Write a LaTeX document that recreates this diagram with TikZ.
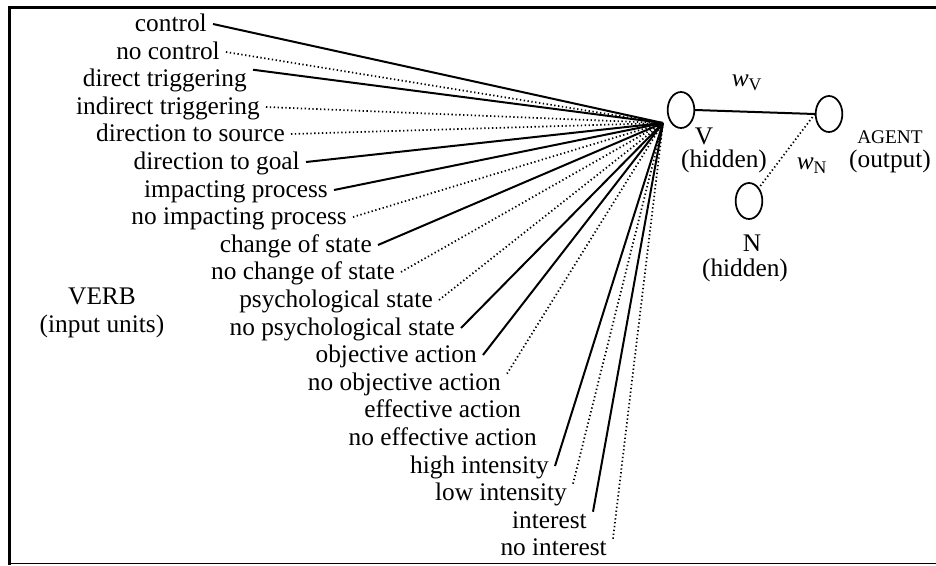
\documentclass[tikz,border=0pt]{standalone}
\usepackage{fontspec}
\setmainfont{Liberation Serif}
\usetikzlibrary{shapes.geometric}
\begin{document}
\begin{tikzpicture}[x=0.75pt,y=-0.75pt,
  lbl/.style={anchor=east,inner xsep=4.5pt,inner ysep=0pt,text height=12pt,text depth=1.5pt,font=\fontsize{19}{20.5}\selectfont},
  txt/.style={inner sep=0pt,font=\fontsize{19}{20.5}\selectfont},
  unit/.style={draw,ellipse,line width=1.3pt,minimum width=20pt,minimum height=27pt,inner sep=0pt},
  on/.style={line width=1.5pt},
  off/.style={line width=1.3pt,dash pattern=on 1pt off 1.9pt}]
\useasboundingbox (0,0) rectangle (936,565);
\draw[line width=2.25pt] (936,7.5) -- (9.5,7.5) -- (9.5,565);
\draw[line width=0.75pt] (8,563.6) -- (936,563.6);
% input units
\node[txt,align=center] (verb) at (102,313) {VERB\\(input units)};
\node[lbl] (ctl) at (213,24) {control};
\node[lbl] (noctl) at (226,52) {no control};
\node[lbl] (dtrig) at (253,79) {direct triggering};
\node[lbl] (itrig) at (266,107) {indirect triggering};
\node[lbl] (dsrc) at (291,134) {direction to source};
\node[lbl] (dgoal) at (306,162) {direction to goal};
\node[lbl] (imp) at (334,190) {impacting process};
\node[lbl] (noimp) at (353,217) {no impacting process};
\node[lbl] (chg) at (378,245) {change of state};
\node[lbl] (nochg) at (401,272) {no change of state};
\node[lbl] (psy) at (439,300) {psychological state};
\node[lbl] (nopsy) at (461,328) {no psychological state};
\node[lbl] (obj) at (483,355) {objective action};
\node[lbl] (noobj) at (507,383) {no objective action};
\node[lbl] (eff) at (527,410) {effective action};
\node[lbl] (noeff) at (543,438) {no effective action};
\node[lbl] (hi) at (555,466) {high intensity};
\node[lbl] (lo) at (573,493) {low intensity};
\node[lbl] (int) at (593,521) {interest};
\node[lbl] (noint) at (613,548) {no interest};
\coordinate (hub) at (663,123);
% connections into V
\draw[on] (ctl.east) -- (hub);
\draw[off] (noctl.east) -- (hub);
\draw[on] (dtrig.north east) -- (hub);
\draw[off] (itrig.east) -- (hub);
\draw[off] (dsrc.east) -- (hub);
\draw[on] (dgoal.east) -- (hub);
\draw[on] (imp.east) -- (hub);
\draw[off] (noimp.east) -- (hub);
\draw[on] (chg.east) -- (hub);
\draw[off] (nochg.east) -- (hub);
\draw[off] (psy.east) -- (hub);
\draw[on] (nopsy.east) -- (hub);
\draw[on] (obj.east) -- (hub);
\draw[off] (noobj.north east) -- (hub);
\draw[on] (hi.east) -- (hub);
\draw[off] (lo.north east) -- (hub);
\draw[on] (int.north east) -- (hub);
\draw[off] (noint.north east) -- (hub);
% hidden and output units
\node[unit] (v) at (681,110) {};
\node[unit] (agent) at (829,114) {};
\node[unit] (n) at (749,201) {};
\draw[on] (v.east) -- (agent.west);
\draw[off] (agent.west) -- (n.north east);
\node[txt] (wv) at (747,83) {\textit{w}\textsubscript{V}};
\node[txt] (wn) at (812,166) {\textit{w}\textsubscript{N}};
\node[txt] (vname) at (704,136) {V};
\node[txt] (vrole) at (724,161) {(hidden)};
\node[txt] (nname) at (752,243) {N};
\node[txt] (nrole) at (745,270) {(hidden)};
\node[txt,font=\fontsize{14.5}{16}\selectfont] (aname) at (890,137) {AGENT};
\node[txt] (arole) at (890,161) {(output)};
\end{tikzpicture}
\end{document}
